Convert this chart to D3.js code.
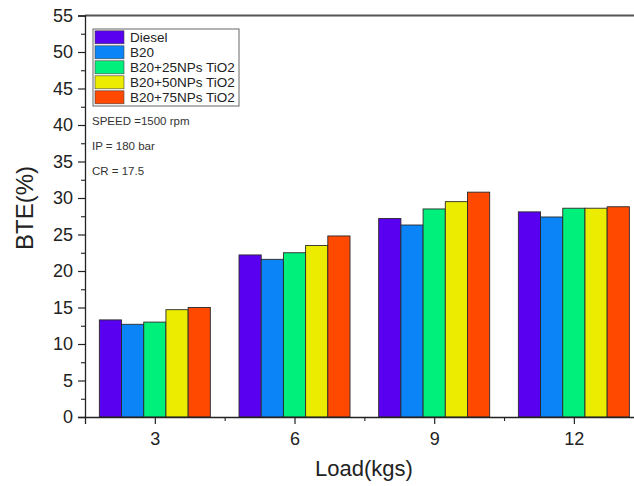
<!DOCTYPE html>
<html><head><meta charset="utf-8">
<script src="https://cdn.jsdelivr.net/npm/d3@7"></script>
<style>html,body{margin:0;padding:0;background:#fff;overflow:hidden}</style>
</head><body>
<svg id="c" width="634" height="486"></svg>
<script>
const loads = [3, 6, 9, 12];
const seriesNames = ["Diesel", "B20", "B20+25NPs TiO2", "B20+50NPs TiO2", "B20+75NPs TiO2"];
const diesel = [13.3, 22.2, 27.2, 28.1];
const b20 = [12.7, 21.6, 26.3, 27.4];
const np25 = [13.0, 22.5, 28.5, 28.6];
const np50 = [14.7, 23.5, 29.5, 28.6];
const np75 = [15.0, 24.8, 30.8, 28.8];
const yTicks = [0, 5, 10, 15, 20, 25, 30, 35, 40, 45, 50, 55];
const notes = ["SPEED =1500 rpm", "IP = 180 bar", "CR = 17.5"];
const colors = ["#5a00f0", "#0a84f6", "#00f07c", "#ecec00", "#ff4800"];
const values = [diesel, b20, np25, np50, np75];

const svg = d3.select("#c");
const font = "'Liberation Sans', Arial, sans-serif";
const x = d3.scaleLinear().domain([1.5, 13.5]).range([85, 643.7]);
const y = d3.scaleLinear().domain([0, 55]).range([417, 15.5]);
const groupW = 111;
const inner = d3.scaleBand().domain(seriesNames).range([-groupW / 2, groupW / 2]).padding(0);

// bars
seriesNames.forEach((s, si) => {
  svg.append("g").selectAll("rect").data(loads).join("rect")
    .attr("x", (d) => x(d) + inner(s))
    .attr("y", (d, i) => y(values[si][i]))
    .attr("width", inner.bandwidth())
    .attr("height", (d, i) => y(0) - y(values[si][i]))
    .attr("fill", colors[si])
    .attr("stroke", "#2a2a2a")
    .attr("stroke-width", 0.9);
});

// top frame line
svg.append("line").attr("x1", 85).attr("x2", 634).attr("y1", y(55)).attr("y2", y(55))
  .attr("stroke", "#555").attr("stroke-width", 2);

// y axis
const yAx = svg.append("g").attr("transform", "translate(85,0)")
  .call(d3.axisLeft(y).tickValues(yTicks).tickSize(7).tickPadding(5));
yAx.select(".domain").attr("stroke", "#222").attr("stroke-width", 1.3);
yAx.selectAll(".tick line").attr("stroke", "#222").attr("stroke-width", 1.2);
yAx.selectAll("text").attr("font-family", font).attr("font-size", 18).attr("fill", "#222");
const yMinor = d3.range(2.5, 55, 5);
svg.append("g").attr("transform", "translate(85,0)")
  .call(d3.axisLeft(y).tickValues(yMinor).tickSize(4).tickFormat(""))
  .call(g => g.select(".domain").remove())
  .selectAll("line").attr("stroke", "#222").attr("stroke-width", 1.1);

// x axis
const xAx = svg.append("g").attr("transform", `translate(0,${y(0)})`)
  .call(d3.axisBottom(x).tickValues(loads).tickSize(7).tickPadding(8).tickFormat(d3.format("d")));
xAx.select(".domain").attr("stroke", "#222").attr("stroke-width", 1.3);
xAx.selectAll(".tick line").attr("stroke", "#222").attr("stroke-width", 1.2);
xAx.selectAll("text").attr("font-family", font).attr("font-size", 18).attr("fill", "#222");
svg.append("g").attr("transform", `translate(0,${y(0)})`)
  .call(d3.axisBottom(x).tickValues([4.5, 7.5, 10.5]).tickSize(4).tickFormat(""))
  .call(g => g.select(".domain").remove())
  .selectAll("line").attr("stroke", "#222").attr("stroke-width", 1.1);

// axis titles
svg.append("text").attr("x", 364).attr("y", 476).attr("text-anchor", "middle")
  .attr("font-family", font).attr("font-size", 22).attr("fill", "#222").text("Load(kgs)");
svg.append("text").attr("transform", "translate(33,208) rotate(-90)").attr("text-anchor", "middle")
  .attr("font-family", font).attr("font-size", 24).attr("fill", "#222").text("BTE(%)");

// legend
const lg = svg.append("g");
lg.append("rect").attr("x", 93).attr("y", 29).attr("width", 146).attr("height", 77)
  .attr("fill", "#fff").attr("stroke", "#666").attr("stroke-width", 1);
seriesNames.forEach((s, i) => {
  const cy = 37.3 + i * 15;
  lg.append("rect").attr("x", 95).attr("y", cy - 6.5).attr("width", 29).attr("height", 13)
    .attr("fill", colors[i]).attr("stroke", "#444").attr("stroke-width", 0.6);
  lg.append("text").attr("x", 130).attr("y", cy + 4.7).attr("font-family", font)
    .attr("font-size", 13.5).attr("fill", "#222").text(s);
});

// notes
notes.forEach((n, i) => {
  svg.append("text").attr("x", 92).attr("y", 125 + i * 25).attr("font-family", font)
    .attr("font-size", 11.5).attr("fill", "#333").text(n);
});
</script>
</body></html>
